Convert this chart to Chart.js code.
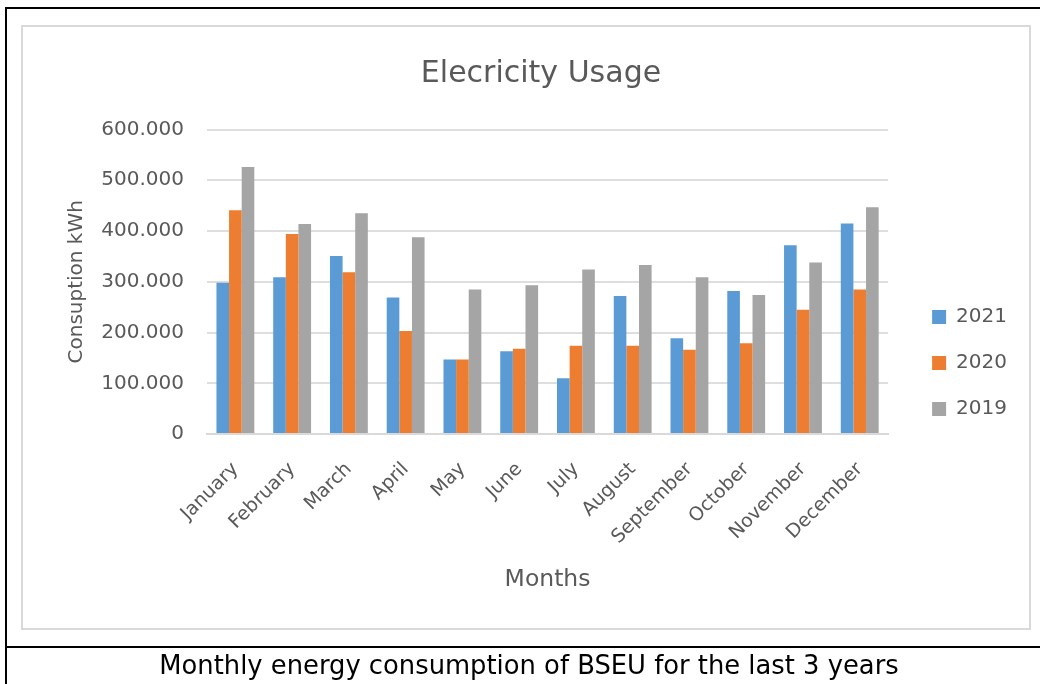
<!DOCTYPE html>
<html>
<head>
<meta charset="utf-8">
<script src="https://cdn.jsdelivr.net/npm/chart.js@4"></script>
<style>
body{margin:0;width:1040px;height:684px;background:#fff;position:relative;overflow:hidden;font-family:"DejaVu Sans",sans-serif}
.line{position:absolute;background:#000}
.box{position:absolute;left:21px;top:25px;width:1006px;height:601px;border:2px solid #d9d9d9}
/* canvas runs past the grey box so the right legend centres where the original has it */
.wrap{position:absolute;left:23px;top:27px;width:1006px;height:672px}
.caption{position:absolute;left:0;top:650px;width:1058px;text-align:center;font-size:25.8px;line-height:30px;color:#000}
</style>
</head>
<body>
<div class="line" style="left:5px;top:7px;width:1035px;height:2px"></div>
<div class="line" style="left:5px;top:7px;width:2px;height:677px"></div>
<div class="line" style="left:5px;top:646px;width:1035px;height:2px"></div>
<div class="box"></div>
<div class="wrap"><canvas id="chart"></canvas></div>
<div class="caption">Monthly energy consumption of BSEU for the last 3 years</div>
<script>
const months = ['January', 'February', 'March', 'April', 'May', 'June', 'July', 'August', 'September', 'October', 'November', 'December']
const usage2021 = [298000, 309000, 351000, 269000, 147000, 163000, 110000, 272000, 189000, 282000, 372000, 415000]
const usage2020 = [441000, 394000, 319000, 203000, 147000, 168000, 174000, 174000, 166000, 179000, 245000, 285000]
const usage2019 = [526000, 414000, 435000, 388000, 285000, 293000, 324000, 333000, 309000, 274000, 338000, 447000]
const yTicks = [0, 100000, 200000, 300000, 400000, 500000, 600000]

const grey = '#595959'
const font = 'DejaVu Sans'

// 600000 -> "600.000"
function dotted(v) {
    if (v === 0) return '0'
    return Math.round(v / 1000) + '.000'
}

const data = {
    labels: months,
    datasets: [
        { label: '2021', data: usage2021, backgroundColor: '#5b9bd5' },
        { label: '2020', data: usage2020, backgroundColor: '#ed7d31' },
        { label: '2019', data: usage2019, backgroundColor: '#a5a5a5' }
    ]
}

const config = {
    type: 'bar',
    data: data,
    options: {
        responsive: true,
        maintainAspectRatio: false,
        animation: false,
        layout: { padding: { left: 42, right: 12, top: 0, bottom: 0 } },
        datasets: { bar: { categoryPercentage: 0.667, barPercentage: 1 } },
        plugins: {
            title: {
                display: true,
                text: 'Elecricity Usage',
                color: grey,
                font: { family: font, size: 30, weight: 'normal' },
                padding: { top: 29, bottom: 37.5 }
            },
            legend: {
                position: 'right',
                labels: {
                    color: grey,
                    font: { family: font, size: 20 },
                    boxWidth: 14,
                    boxHeight: 14,
                    padding: 26
                }
            },
            tooltip: { enabled: false }
        },
        scales: {
            x: {
                grid: { display: false },
                border: { display: true, color: '#d9d9d9', width: 2 },
                ticks: {
                    color: grey,
                    font: { family: font, size: 19 },
                    minRotation: 45,
                    maxRotation: 45,
                    padding: 16
                },
                title: {
                    display: true,
                    text: 'Months',
                    color: grey,
                    font: { family: font, size: 23.5 },
                    padding: { top: 1.3, bottom: 105 }
                }
            },
            y: {
                min: 0,
                max: 600000,
                afterBuildTicks: scale => { scale.ticks = yTicks.map(v => ({ value: v })) },
                afterFit: scale => { scale.width = 142 },
                grid: { color: '#dedede', lineWidth: 2, drawTicks: false },
                border: { display: false },
                ticks: {
                    color: grey,
                    font: { family: font, size: 20 },
                    padding: 23,
                    callback: v => dotted(v)
                },
                title: {
                    display: true,
                    text: 'Consuption kWh',
                    color: grey,
                    font: { family: font, size: 20 },
                    padding: { top: 0, bottom: 0 }
                }
            },
            // empty spacer between plot and legend
            gap: {
                type: 'linear',
                position: 'right',
                grid: { display: false },
                border: { display: false },
                ticks: { display: false },
                afterFit: scale => { scale.width = 18 }
            }
        }
    }
}

const ctx = document.getElementById('chart').getContext('2d')
new Chart(ctx, config)
</script>
</body>
</html>
